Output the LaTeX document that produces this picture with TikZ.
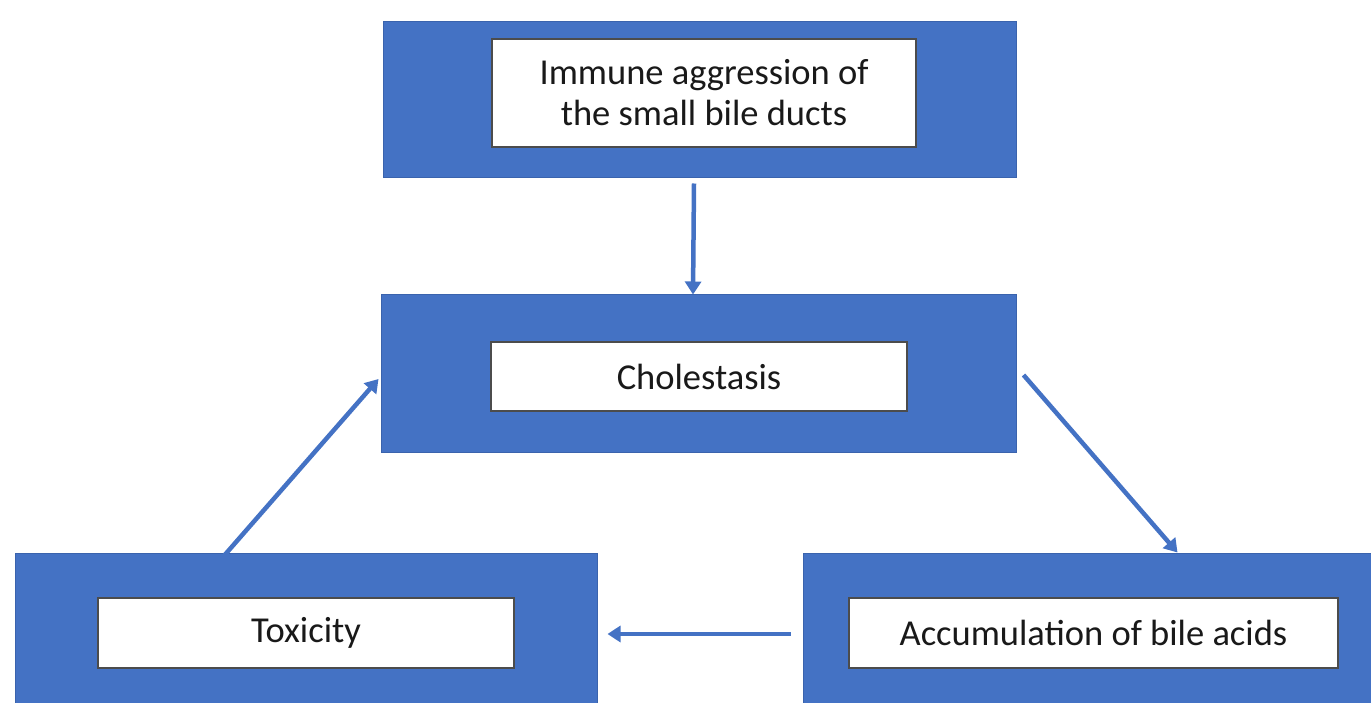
\documentclass[tikz,border=0pt]{standalone}
\usepackage{fontspec}
\setmainfont{Carlito}
\usetikzlibrary{arrows.meta}
\definecolor{boxblue}{HTML}{4472C4}
\definecolor{edgeblue}{HTML}{3A63AD}
\tikzset{
  outerbox/.style={draw=edgeblue, line width=1pt, fill=boxblue, inner sep=0pt, anchor=center},
  innerbox/.style={draw=black!70, line width=1.2pt, fill=white, inner sep=0pt, align=center, anchor=center,
    font=\fontsize{36.5}{41}\selectfont, text=black!90},
  arr/.style={draw=boxblue, line width=4.5pt, -{Triangle[length=13pt,width=16pt]}, shorten >=0pt}
}
\begin{document}
\begin{tikzpicture}[x=1pt,y=-1pt]
\useasboundingbox (0,0) rectangle (1371,703);
\begin{scope}
\clip (0,0) rectangle (1371,703);
\node[outerbox, minimum width=633pt, minimum height=156pt] (top) at (699.5,100) {};
\node[outerbox, minimum width=635pt, minimum height=157pt] (mid) at (698.5,373.5) {};
\node[outerbox, minimum width=582pt, minimum height=162pt] (bl) at (306,634) {};
\node[outerbox, minimum width=590pt, minimum height=162pt] (br) at (1098,634) {};
\node[innerbox, minimum width=424pt, minimum height=108pt] (topin) at (704,93) {Immune aggression of\\the small bile ducts};
\node[innerbox, minimum width=416pt, minimum height=69pt] (midin) at (699,376.5) {Cholestasis};
\node[innerbox, minimum width=416pt, minimum height=70pt] (blin) at (306,633) {Toxicity};
\node[innerbox, minimum width=489pt, minimum height=70pt] (brin) at (1093.5,633) {Accumulation of bile acids};
\end{scope}
\draw[arr] ([xshift=-5.5pt,yshift=-5pt]top.south) -- ([xshift=-5.5pt]mid.north);
\draw[arr] ([xshift=7pt,yshift=-1.5pt]mid.east) -- ([xshift=375pt]br.north west);
\draw[arr] ([xshift=-12pt]br.west) -- ([xshift=10pt]bl.east);
\draw[arr] ([xshift=208pt,yshift=-5pt]bl.north west) -- ([xshift=-2pt,yshift=-5.5pt]mid.west);
\end{tikzpicture}
\end{document}
